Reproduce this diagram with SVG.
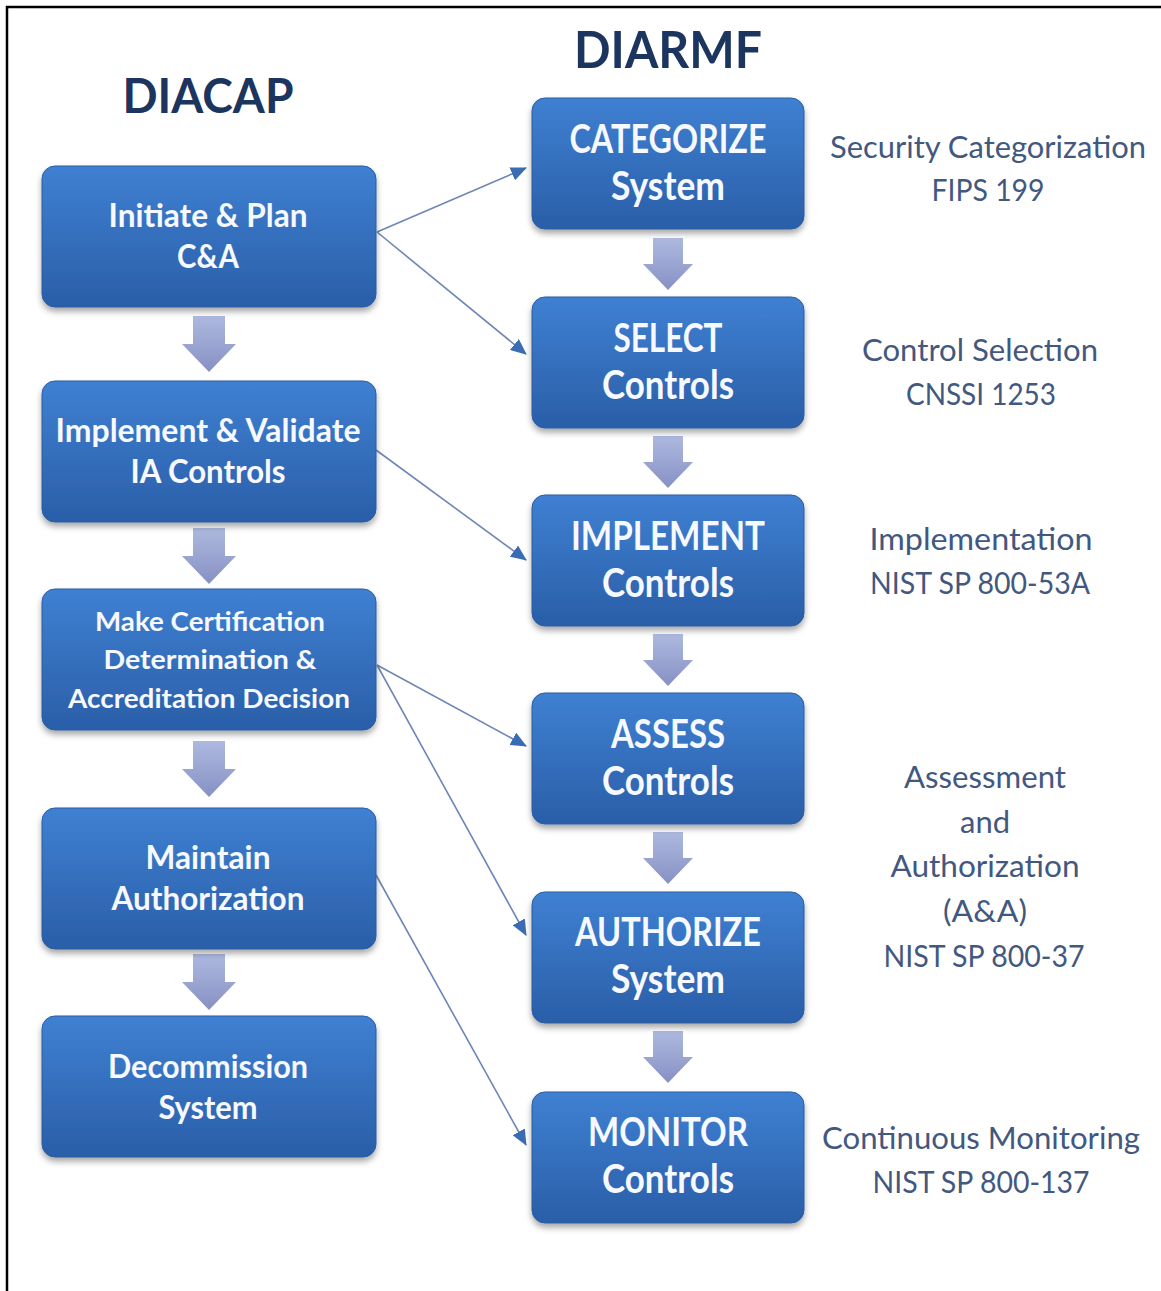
<svg xmlns="http://www.w3.org/2000/svg" width="1161" height="1291" viewBox="0 0 1161 1291">
<defs>
<style>
.bx{fill:url(#gBox);stroke:#2b5c9f;stroke-width:1;filter:url(#sh)}
.bt{font-family:Lato,"Open Sans","Liberation Sans",sans-serif;font-weight:bold;fill:#f6f9ff;text-anchor:middle;lengthAdjust:spacingAndGlyphs}
.l{font-size:32px}
.s{font-size:26px}
.r{font-size:40px}
.side{font-family:Lato,"Open Sans","Liberation Sans",sans-serif;font-size:31px;fill:#42587f;text-anchor:middle}
.ttl{font-family:Lato,"Open Sans","Liberation Sans",sans-serif;font-weight:bold;fill:#1b355f;text-anchor:middle}
.cn{stroke:#6d86b6;stroke-width:1.6;fill:none;marker-end:url(#ah)}
.da{fill:url(#gArr)}
</style>
<linearGradient id="gBox" x1="0" y1="0" x2="0" y2="1">
<stop offset="0" stop-color="#3f80d2"/>
<stop offset="1" stop-color="#2a5ea8"/>
</linearGradient>
<linearGradient id="gArr" x1="0" y1="0" x2="0" y2="1">
<stop offset="0" stop-color="#aeb9e0"/>
<stop offset="1" stop-color="#8691c4"/>
</linearGradient>
<filter id="sh" x="-10%" y="-10%" width="120%" height="130%">
<feDropShadow dx="0" dy="4" stdDeviation="3" flood-color="#000" flood-opacity="0.35"/>
</filter>
<marker id="ah" markerUnits="userSpaceOnUse" markerWidth="16" markerHeight="14" refX="15" refY="7" orient="auto">
<path d="M0,0 L16,7 L0,14 Z" fill="#3a6cb3"/>
</marker>
<path id="dnL" d="M-16,0 H16 V28 H27 L0,56 L-27,28 H-16 Z"/>
<path id="dnR" d="M-15,0 H15 V26 H25 L0,52 L-25,26 H-15 Z"/>
</defs>
<rect x="0" y="0" width="1161" height="1291" fill="#ffffff"/>
<g id="frame" stroke="#000" stroke-width="2.5">
<line x1="6" y1="7" x2="1161" y2="7"/>
<line x1="7" y1="6" x2="7" y2="1291"/>
</g>
<g id="titles">
<text class="ttl" x="208" y="113" font-size="48" textLength="171" lengthAdjust="spacingAndGlyphs">DIACAP</text>
<text class="ttl" x="668" y="68" font-size="52" textLength="188" lengthAdjust="spacingAndGlyphs">DIARMF</text>
</g>
<g id="flow-arrows">
<use href="#dnL" class="da" x="209" y="316"/>
<use href="#dnL" class="da" x="209" y="528"/>
<use href="#dnL" class="da" x="209" y="741"/>
<use href="#dnL" class="da" x="209" y="954"/>
<use href="#dnR" class="da" x="668" y="238"/>
<use href="#dnR" class="da" x="668" y="436"/>
<use href="#dnR" class="da" x="668" y="634"/>
<use href="#dnR" class="da" x="668" y="832"/>
<use href="#dnR" class="da" x="668" y="1031"/>
</g>
<g id="connectors">
<line class="cn" x1="377" y1="232" x2="526" y2="168"/>
<line class="cn" x1="377" y1="232" x2="526" y2="354"/>
<line class="cn" x1="376" y1="450" x2="526" y2="560"/>
<line class="cn" x1="377" y1="665" x2="526" y2="746"/>
<line class="cn" x1="377" y1="665" x2="526" y2="935"/>
<line class="cn" x1="376" y1="875" x2="526" y2="1145"/>
</g>
<g id="initiate">
<rect class="bx" x="42" y="166" width="334" height="141" rx="13"/>
<text class="bt l" x="208" y="227" textLength="199" lengthAdjust="spacingAndGlyphs">Initiate &amp; Plan</text>
<text class="bt l" x="208" y="268" textLength="62" lengthAdjust="spacingAndGlyphs">C&amp;A</text>
</g>
<g id="implement-validate">
<rect class="bx" x="42" y="381" width="334" height="141" rx="13"/>
<text class="bt l" x="208" y="442" textLength="305" lengthAdjust="spacingAndGlyphs">Implement &amp; Validate</text>
<text class="bt l" x="208" y="483" textLength="155" lengthAdjust="spacingAndGlyphs">IA Controls</text>
</g>
<g id="make-certification">
<rect class="bx" x="42" y="589" width="334" height="141" rx="13"/>
<text class="bt s" x="210" y="631" textLength="230" lengthAdjust="spacingAndGlyphs">Make Certification</text>
<text class="bt s" x="210" y="669" textLength="213" lengthAdjust="spacingAndGlyphs">Determination  &amp;</text>
<text class="bt s" x="209" y="708" textLength="282" lengthAdjust="spacingAndGlyphs">Accreditation  Decision</text>
</g>
<g id="maintain">
<rect class="bx" x="42" y="808" width="334" height="141" rx="13"/>
<text class="bt l" x="208" y="869" textLength="125" lengthAdjust="spacingAndGlyphs">Maintain</text>
<text class="bt l" x="208" y="910" textLength="193" lengthAdjust="spacingAndGlyphs">Authorization</text>
</g>
<g id="decommission">
<rect class="bx" x="42" y="1016" width="334" height="141" rx="13"/>
<text class="bt l" x="208" y="1078" textLength="200" lengthAdjust="spacingAndGlyphs">Decommission</text>
<text class="bt l" x="208" y="1119" textLength="99" lengthAdjust="spacingAndGlyphs">System</text>
</g>
<g id="categorize">
<rect class="bx" x="532" y="98" width="272" height="131" rx="13"/>
<text class="bt r" x="668" y="153" textLength="197" lengthAdjust="spacingAndGlyphs">CATEGORIZE</text>
<text class="bt r" x="668" y="200" textLength="114" lengthAdjust="spacingAndGlyphs">System</text>
</g>
<g id="select">
<rect class="bx" x="532" y="297" width="272" height="131" rx="13"/>
<text class="bt r" x="668" y="352" textLength="109" lengthAdjust="spacingAndGlyphs">SELECT</text>
<text class="bt r" x="668" y="399" textLength="132" lengthAdjust="spacingAndGlyphs">Controls</text>
</g>
<g id="implement">
<rect class="bx" x="532" y="495" width="272" height="131" rx="13"/>
<text class="bt r" x="668" y="550" textLength="194" lengthAdjust="spacingAndGlyphs">IMPLEMENT</text>
<text class="bt r" x="668" y="597" textLength="132" lengthAdjust="spacingAndGlyphs">Controls</text>
</g>
<g id="assess">
<rect class="bx" x="532" y="693" width="272" height="131" rx="13"/>
<text class="bt r" x="668" y="748" textLength="114" lengthAdjust="spacingAndGlyphs">ASSESS</text>
<text class="bt r" x="668" y="795" textLength="132" lengthAdjust="spacingAndGlyphs">Controls</text>
</g>
<g id="authorize">
<rect class="bx" x="532" y="892" width="272" height="131" rx="13"/>
<text class="bt r" x="668" y="946" textLength="186" lengthAdjust="spacingAndGlyphs">AUTHORIZE</text>
<text class="bt r" x="668" y="993" textLength="114" lengthAdjust="spacingAndGlyphs">System</text>
</g>
<g id="monitor">
<rect class="bx" x="532" y="1092" width="272" height="131" rx="13"/>
<text class="bt r" x="668" y="1146" textLength="160" lengthAdjust="spacingAndGlyphs">MONITOR</text>
<text class="bt r" x="668" y="1193" textLength="132" lengthAdjust="spacingAndGlyphs">Controls</text>
</g>
<g id="side-labels">
<text class="side" x="988" y="158" textLength="316" lengthAdjust="spacingAndGlyphs">Security Categorization</text>
<text class="side" x="988" y="201" textLength="113" lengthAdjust="spacingAndGlyphs">FIPS 199</text>
<text class="side" x="980" y="361" textLength="236" lengthAdjust="spacingAndGlyphs">Control Selection</text>
<text class="side" x="981" y="405" textLength="150" lengthAdjust="spacingAndGlyphs">CNSSI 1253</text>
<text class="side" x="981" y="550" textLength="223" lengthAdjust="spacingAndGlyphs">Implementation</text>
<text class="side" x="980" y="594" textLength="220" lengthAdjust="spacingAndGlyphs">NIST SP 800-53A</text>
<text class="side" x="985" y="788" textLength="162" lengthAdjust="spacingAndGlyphs">Assessment</text>
<text class="side" x="985" y="833" textLength="50" lengthAdjust="spacingAndGlyphs">and</text>
<text class="side" x="985" y="877" textLength="189" lengthAdjust="spacingAndGlyphs">Authorization</text>
<text class="side" x="985" y="922" textLength="84" lengthAdjust="spacingAndGlyphs">(A&amp;A)</text>
<text class="side" x="984" y="967" textLength="201" lengthAdjust="spacingAndGlyphs">NIST SP 800-37</text>
<text class="side" x="981" y="1149" textLength="318" lengthAdjust="spacingAndGlyphs">Continuous Monitoring</text>
<text class="side" x="981" y="1193" textLength="217" lengthAdjust="spacingAndGlyphs">NIST SP 800-137</text>
</g>
</svg>
